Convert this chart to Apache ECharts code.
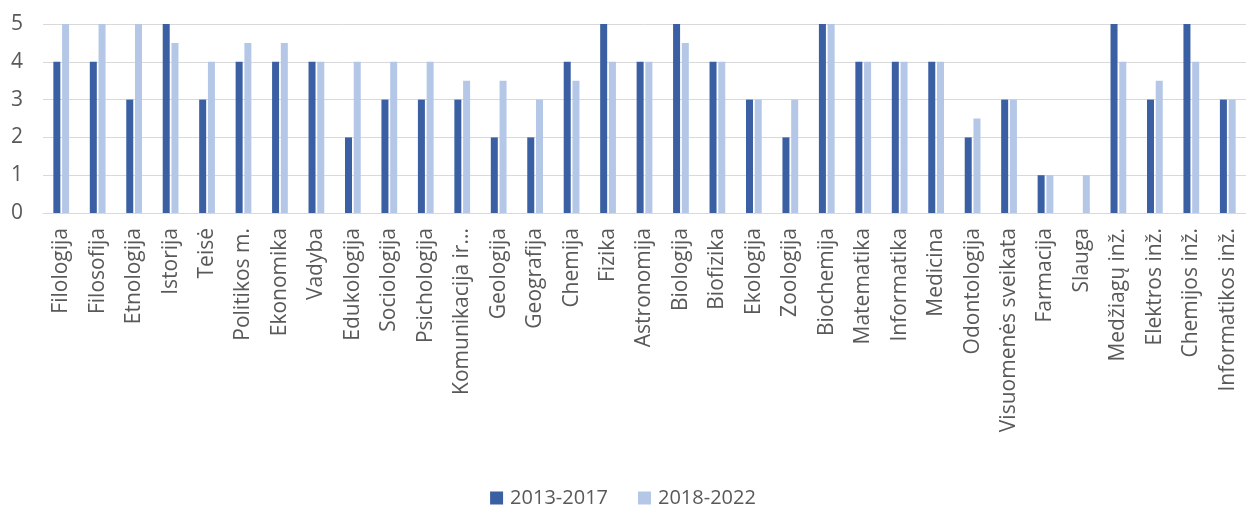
<!DOCTYPE html>
<html><head><meta charset="utf-8">
<script src="https://cdn.jsdelivr.net/npm/echarts@6/dist/echarts.min.js"></script>
<style>html,body{margin:0;padding:0;background:#fff}#c{width:1246px;height:514px}</style>
</head><body><div id="c"></div>
<script>
const categories = ["Filologija","Filosofija","Etnologija","Istorija","Teisė","Politikos m.","Ekonomika","Vadyba","Edukologija","Sociologija","Psichologija","Komunikacija ir...","Geologija","Geografija","Chemija","Fizika","Astronomija","Biologija","Biofizika","Ekologija","Zoologija","Biochemija","Matematika","Informatika","Medicina","Odontologija","Visuomenės sveikata","Farmacija","Slauga","Medžiagų inž.","Elektros inž.","Chemijos inž.","Informatikos inž."];
const s2013 = [4,4,3,5,3,4,4,4,2,3,3,3,2,2,4,5,4,5,4,3,2,5,4,4,4,2,3,1,0,5,3,5,3];
const s2018 = [5,5,5,4.5,4,4.5,4.5,4,4,4,4,3.5,3.5,3,3.5,4,4,4.5,4,3,3,5,4,4,4,2.5,3,1,1,4,3.5,4,3];
const seriesNames = ["2013-2017","2018-2022"];
const yTicks = [0,1,2,3,4,5];

const chart = echarts.init(document.getElementById('c'), null, {renderer:'canvas'});
const font = "'Open Sans', sans-serif";
chart.setOption({
  animation:false,
  textStyle:{fontFamily:font},
  grid:{left:43,right:-4,top:24,bottom:301},
  legend:{
    bottom:1,left:'center',itemWidth:13,itemHeight:13,itemGap:30,icon:'rect',
    textStyle:{fontSize:20,color:'#595959',fontFamily:font,padding:[0,0,0,2]},
    data:seriesNames
  },
  xAxis:{
    type:'category',data:categories,
    axisLine:{show:true,lineStyle:{color:'#D9D9D9',width:1}},
    axisTick:{show:false},
    axisLabel:{rotate:90,interval:0,fontSize:21,color:'#595959',margin:15,fontFamily:font}
  },
  yAxis:{
    type:'value',min:yTicks[0],max:yTicks[yTicks.length-1],interval:1,
    axisLine:{show:false},axisTick:{show:false},
    splitLine:{lineStyle:{color:'#D9D9D9',width:1}},
    axisLabel:{fontSize:21,color:'#595959',margin:20,fontFamily:font}
  },
  series:[
    {name:seriesNames[0],type:'bar',data:s2013,barWidth:7,barGap:'25%',
     itemStyle:{color:'#3A5FA2'}},
    {name:seriesNames[1],type:'bar',data:s2018,barWidth:7,
     itemStyle:{color:'#B4C7E7'}}
  ]
});
</script></body></html>
